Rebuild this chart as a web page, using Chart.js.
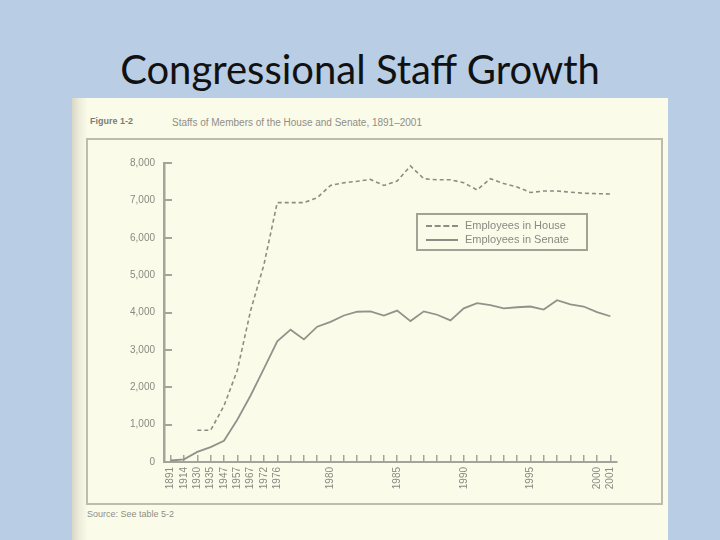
<!DOCTYPE html>
<html>
<head>
<meta charset="utf-8">
<script src="https://cdn.jsdelivr.net/npm/chart.js@4.4.0/dist/chart.umd.min.js"></script>
<style>
  html, body { margin: 0; padding: 0; }
  body { width: 720px; height: 540px; background: #b9cde4; position: relative; overflow: hidden; font-family: "Liberation Sans", Arial, sans-serif; }
  #titulo { position: absolute; left: 0; top: 45px; width: 720px; text-align: center; font-family: Lato, "Open Sans", sans-serif; font-size: 40px; color: #111; }
  #papel { position: absolute; left: 72px; top: 98px; width: 596px; height: 442px; background: linear-gradient(to right, #d9d6c6 0px, #efeedd 8px, #fbfbea 16px, #fbfbea 100%); }
  #moldura { position: absolute; left: 86px; top: 138px; width: 573px; height: 363px; border: 2px solid #bdbcad; }
  #fig { position: absolute; left: 90px; top: 116px; font-size: 9px; font-weight: bold; color: #7d7c74; }
  #figTexto { position: absolute; left: 172px; top: 117px; font-size: 10px; color: #8f8e86; }
  #fonte { position: absolute; left: 87px; top: 509px; font-size: 9px; color: #8f8e86; }
  #grafico { position: absolute; left: 90px; top: 140px; }
  #legenda { position: absolute; left: 416px; top: 213px; width: 168px; height: 34px; border: 2px solid #a3a297; font-size: 11px; color: #8a8982; }
  .item { position: absolute; left: 8px; height: 14px; line-height: 14px; }
  .amostra { display: inline-block; width: 32px; vertical-align: middle; margin-right: 7px; }
</style>
</head>
<body>
<div id="titulo">Congressional Staff Growth</div>
<div id="papel"></div>
<div id="moldura"></div>
<div id="fig">Figure 1-2</div>
<div id="figTexto">Staffs of Members of the House and Senate, 1891–2001</div>
<div id="fonte">Source: See table 5-2</div>
<canvas id="grafico" width="572" height="360"></canvas>
<div id="legenda">
  <div class="item" style="top:3px"><span class="amostra" style="border-top:2px dashed #8e8d85"></span>Employees in House</div>
  <div class="item" style="top:17px"><span class="amostra" style="border-top:2px solid #8e8d85"></span>Employees in Senate</div>
</div>
<script>
// Anos do eixo x (anual a partir de 1976)
const anos = ["1891", "1914", "1930", "1935", "1947", "1957", "1967", "1972", "1976",
	"1977", "1978", "1979", "1980", "1981", "1982", "1983", "1984", "1985", "1986",
	"1987", "1988", "1989", "1990", "1991", "1992", "1993", "1994", "1995", "1996",
	"1997", "1998", "1999", "2000", "2001"];

// Rótulos que aparecem no eixo
const rotulosVisiveis = ["1891", "1914", "1930", "1935", "1947", "1957", "1967", "1972", "1976",
	"1980", "1985", "1990", "1995", "2000", "2001"];

const funcionariosCamara = [null, null, 850, 850, 1500, 2450, 4050, 5280, 6940,
	6940, 6940, 7070, 7400, 7470, 7510, 7560, 7400, 7520, 7920,
	7580, 7550, 7550, 7470, 7280, 7580, 7450, 7360, 7210, 7250,
	7250, 7220, 7190, 7180, 7170];

const funcionariosSenado = [40, 70, 270, 400, 570, 1130, 1780, 2500, 3230,
	3540, 3280, 3620, 3750, 3920, 4020, 4030, 3920, 4050, 3770,
	4030, 3940, 3790, 4110, 4250, 4200, 4110, 4140, 4160, 4080,
	4330, 4220, 4160, 4010, 3900];

const ticksY = [0, 1000, 2000, 3000, 4000, 5000, 6000, 7000, 8000];

const cinza = "#8e8d85";
const cinzaEixo = "#a5a49a";

const ctx = document.getElementById("grafico");

new Chart(ctx, {
	type: "line",
	data: {
		labels: anos,
		datasets: [
			{
				label: "Employees in House",
				data: funcionariosCamara,
				borderColor: cinza,
				borderWidth: 1.6,
				borderDash: [4, 3],
				pointRadius: 0,
				tension: 0,
				fill: false,
			},
			{
				label: "Employees in Senate",
				data: funcionariosSenado,
				borderColor: "#93928a",
				borderWidth: 1.8,
				pointRadius: 0,
				tension: 0,
				fill: false,
			},
		],
	},
	options: {
		responsive: false,
		animation: false,
		layout: {
			padding: { top: 12, right: 45, bottom: 0, left: 0 },
		},
		plugins: {
			legend: { display: false },
			tooltip: { enabled: false },
		},
		scales: {
			x: {
				offset: true,
				grid: {
					offset: false,
					drawOnChartArea: false,
					tickLength: -7,
					color: cinzaEixo,
					lineWidth: 1.5,
				},
				border: { color: cinzaEixo, width: 2 },
				ticks: {
					autoSkip: false,
					maxRotation: 90,
					minRotation: 90,
					padding: 12,
					color: "#8a8982",
					font: { size: 10, family: "Liberation Sans" },
					callback: function (valor) {
						const ano = this.getLabelForValue(valor);
						return rotulosVisiveis.includes(ano) ? ano : "";
					},
				},
				afterFit: (escala) => { escala.height = 38; },
			},
			y: {
				min: 0,
				max: 8000,
				afterBuildTicks: (escala) => {
					escala.ticks = ticksY.map((v) => ({ value: v }));
				},
				grid: {
					drawOnChartArea: false,
					tickLength: -8,
					color: cinzaEixo,
					lineWidth: 2,
				},
				border: { color: cinzaEixo, width: 2.5 },
				ticks: {
					padding: 17,
					color: "#8a8982",
					font: { size: 10, family: "Liberation Sans" },
					callback: (v) => v.toLocaleString("en-US"),
				},
				afterFit: (escala) => { escala.width = 74; },
			},
		},
	},
});
</script>
</body>
</html>
